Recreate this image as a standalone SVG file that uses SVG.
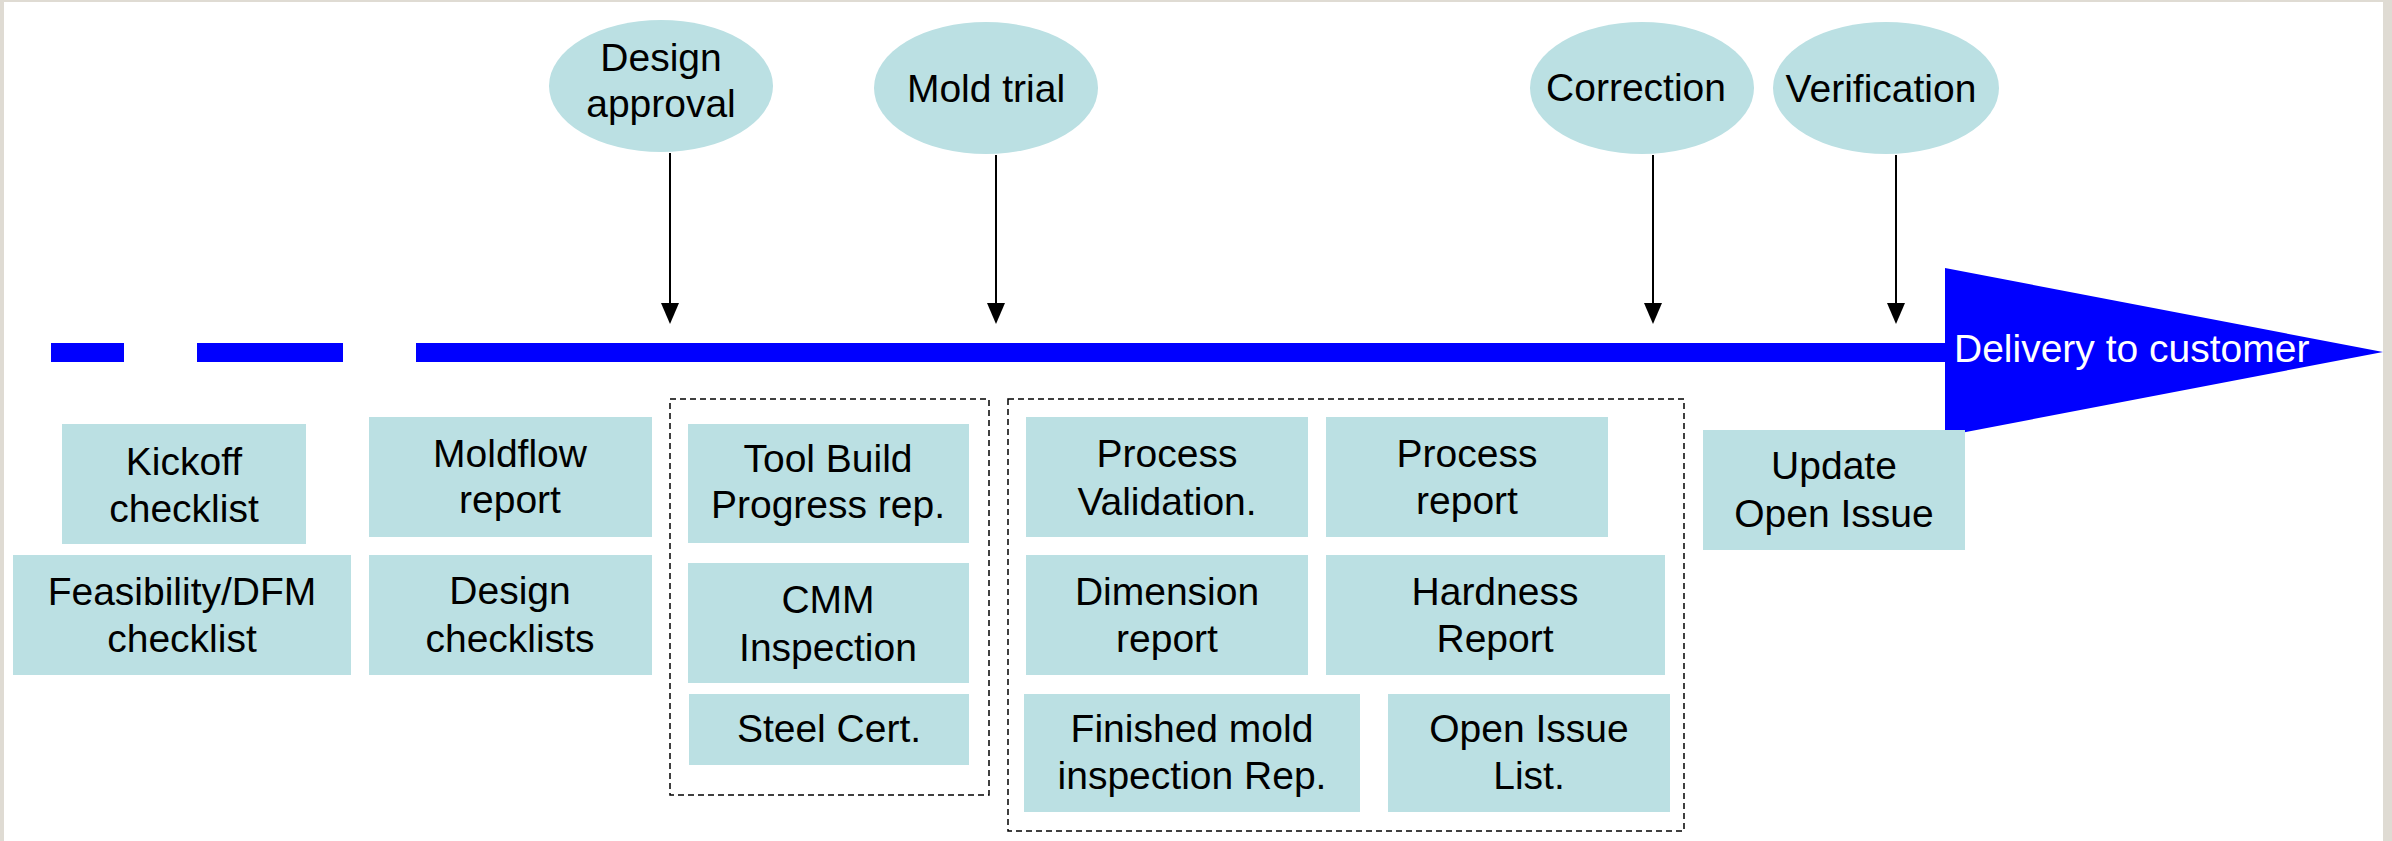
<svg xmlns="http://www.w3.org/2000/svg" width="2392" height="841" viewBox="0 0 2392 841">
<style>
.n{fill:#bbe0e3;}
.t{font-family:"Liberation Sans",Arial,sans-serif;font-size:39px;fill:#000;text-anchor:middle;}
.w{font-family:"Liberation Sans",Arial,sans-serif;font-size:39px;fill:#fff;}
.ln{stroke:#000;stroke-width:2;fill:none;}
.hd{fill:#000;}
.grp{fill:none;stroke:#000;stroke-width:1.5;stroke-dasharray:6 4;}
.tl{fill:#0000ff;}
</style>
<rect x="0" y="0" width="2392" height="841" fill="#dfdbd3"/>
<rect x="4" y="2" width="2379" height="839" fill="#ffffff"/>
<g id="timeline">
<rect class="tl" x="51" y="343" width="73" height="19"/>
<rect class="tl" x="197" y="343" width="146" height="19"/>
<rect class="tl" x="416" y="343" width="1534" height="19"/>
<polygon class="tl" points="1945,268 2383,352 1945,436"/>
<text class="w" x="1954" y="362">Delivery to customer</text>
</g>
<g id="groups">
<rect id="group-build" class="grp" x="670" y="399" width="319" height="396"/>
<rect id="group-trial" class="grp" x="1008" y="399" width="676" height="432"/>
</g>
<g id="connectors">
<path class="ln" d="M670,153 V304"/>
<polygon class="hd" points="661,303 679,303 670,324"/>
<path class="ln" d="M996,155 V304"/>
<polygon class="hd" points="987,303 1005,303 996,324"/>
<path class="ln" d="M1653,155 V304"/>
<polygon class="hd" points="1644,303 1662,303 1653,324"/>
<path class="ln" d="M1896,155 V304"/>
<polygon class="hd" points="1887,303 1905,303 1896,324"/>
</g>
<g id="ms-design">
<ellipse class="n" cx="661" cy="86" rx="112" ry="66"/>
<text class="t" x="661" y="71">Design</text>
<text class="t" x="661" y="117">approval</text>
</g>
<g id="ms-trial">
<ellipse class="n" cx="986" cy="88" rx="112" ry="66"/>
<text class="t" x="986" y="102">Mold trial</text>
</g>
<g id="ms-correction">
<ellipse class="n" cx="1642" cy="88" rx="112" ry="66"/>
<text class="t" x="1636" y="101">Correction</text>
</g>
<g id="ms-verification">
<ellipse class="n" cx="1886" cy="88" rx="113" ry="66"/>
<text class="t" x="1881" y="102">Verification</text>
</g>
<g id="kickoff">
<rect class="n" x="62" y="424" width="244" height="120"/>
<text class="t" x="184" y="475">Kickoff</text>
<text class="t" x="184" y="522">checklist</text>
</g>
<g id="feasibility">
<rect class="n" x="13" y="555" width="338" height="120"/>
<text class="t" x="182" y="605">Feasibility/DFM</text>
<text class="t" x="182" y="652">checklist</text>
</g>
<g id="moldflow">
<rect class="n" x="369" y="417" width="283" height="120"/>
<text class="t" x="510" y="467">Moldflow</text>
<text class="t" x="510" y="513">report</text>
</g>
<g id="design-checklists">
<rect class="n" x="369" y="555" width="283" height="120"/>
<text class="t" x="510" y="604">Design</text>
<text class="t" x="510" y="652">checklists</text>
</g>
<g id="tool-build">
<rect class="n" x="688" y="424" width="281" height="119"/>
<text class="t" x="828" y="472">Tool Build</text>
<text class="t" x="828" y="518">Progress rep.</text>
</g>
<g id="cmm">
<rect class="n" x="688" y="563" width="281" height="120"/>
<text class="t" x="828" y="613">CMM</text>
<text class="t" x="828" y="661">Inspection</text>
</g>
<g id="steel">
<rect class="n" x="689" y="694" width="280" height="71"/>
<text class="t" x="829" y="742">Steel Cert.</text>
</g>
<g id="process-validation">
<rect class="n" x="1026" y="417" width="282" height="120"/>
<text class="t" x="1167" y="467">Process</text>
<text class="t" x="1167" y="515">Validation.</text>
</g>
<g id="process-report">
<rect class="n" x="1326" y="417" width="282" height="120"/>
<text class="t" x="1467" y="467">Process</text>
<text class="t" x="1467" y="514">report</text>
</g>
<g id="dimension">
<rect class="n" x="1026" y="555" width="282" height="120"/>
<text class="t" x="1167" y="605">Dimension</text>
<text class="t" x="1167" y="652">report</text>
</g>
<g id="hardness">
<rect class="n" x="1326" y="555" width="339" height="120"/>
<text class="t" x="1495" y="605">Hardness</text>
<text class="t" x="1495" y="652">Report</text>
</g>
<g id="finished">
<rect class="n" x="1024" y="694" width="336" height="118"/>
<text class="t" x="1192" y="742">Finished mold</text>
<text class="t" x="1192" y="789">inspection Rep.</text>
</g>
<g id="open-issue">
<rect class="n" x="1388" y="694" width="282" height="118"/>
<text class="t" x="1529" y="742">Open Issue</text>
<text class="t" x="1529" y="789">List.</text>
</g>
<g id="update">
<rect class="n" x="1703" y="430" width="262" height="120"/>
<text class="t" x="1834" y="479">Update</text>
<text class="t" x="1834" y="527">Open Issue</text>
</g>
</svg>
